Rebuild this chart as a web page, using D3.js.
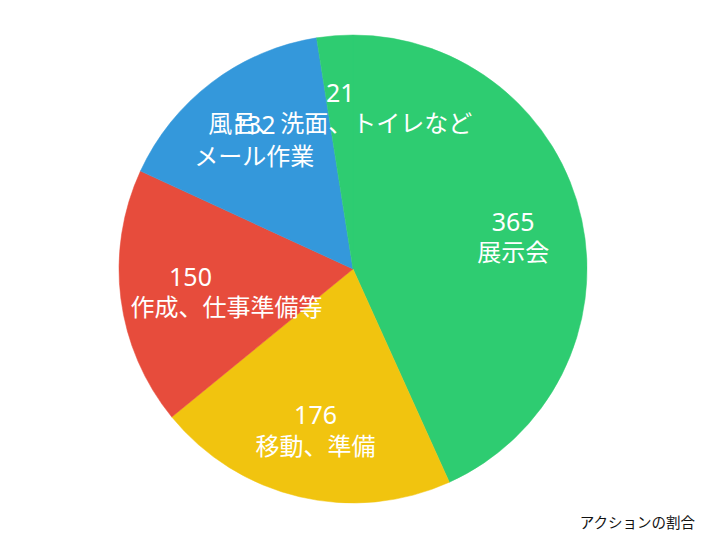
<!DOCTYPE html>
<html>
<head>
<meta charset="utf-8">
<script src="https://cdn.jsdelivr.net/npm/d3@7"></script>
<style>
  html, body { margin: 0; padding: 0; background: #fff; }
  svg { display: block; }
  text { font-family: "Noto Sans CJK JP", "Noto Sans", sans-serif; }
</style>
</head>
<body>
<svg id="chart" width="706" height="540"></svg>
<script>
// Data
const categories = ["展示会", "移動、準備", "\u3000\u3000\u3000作成、仕事準備等", "メール作業", "風呂、洗面、トイレなど"];
const values = [365, 176, 150, 132, 21];
const colors = ["#2ecc71", "#f1c40f", "#e74c3c", "#3498db", "#2ecc71"];
const title = "アクションの割合";

const W = 706, H = 540;
const cx = 353, cy = 269, R = 234;

const svg = d3.select("#chart");
const g = svg.append("g").attr("transform", `translate(${cx},${cy})`);

const data = values.map((v, i) => ({ value: v, label: categories[i], color: colors[i] }));

const pie = d3.pie().value(d => d.value).sort(null).startAngle(0).endAngle(2 * Math.PI);
const arcs = pie(data);

const arc = d3.arc().innerRadius(0).outerRadius(R);
const labelArc = d3.arc().innerRadius(R * 0.7).outerRadius(R * 0.7);

g.selectAll("path.slice")
  .data(arcs)
  .join("path")
  .attr("class", "slice")
  .attr("d", arc)
  .attr("fill", d => d.data.color)
  .attr("stroke", d => d.data.color)
  .attr("stroke-width", 0.5);

const labels = g.selectAll("g.label")
  .data(arcs)
  .join("g")
  .attr("class", "label")
  .attr("transform", d => `translate(${labelArc.centroid(d)})`);

labels.append("text")
  .attr("text-anchor", "middle")
  .attr("dominant-baseline", "central")
  .attr("y", -14)
  .attr("fill", "#ffffff")
  .attr("font-size", 25)
  .style("font-family", "'Noto Sans', sans-serif")
  .text(d => d.data.value);

labels.append("text")
  .attr("text-anchor", "middle")
  .attr("dominant-baseline", "central")
  .attr("y", 16)
  .attr("fill", "#ffffff")
  .attr("font-size", 24)
  .style("white-space", "pre")
  .text(d => d.data.label);

svg.append("text")
  .attr("x", 695)
  .attr("y", 521)
  .attr("text-anchor", "end")
  .attr("dominant-baseline", "central")
  .attr("font-size", 14.5)
  .attr("fill", "#111")
  .text(title);
</script>
</body>
</html>
